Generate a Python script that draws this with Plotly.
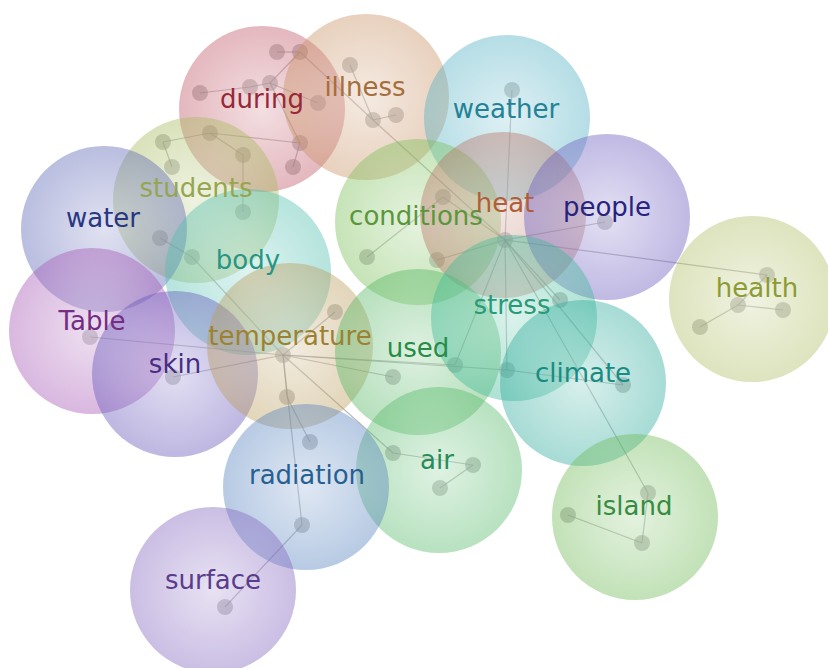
import plotly.graph_objects as go

# ---- topic bubbles ----
terms = ["during", "illness", "weather", "students", "water", "conditions", "heat",
         "people", "health", "body", "Table", "skin", "temperature", "used", "stress",
         "climate", "air", "radiation", "island", "surface"]
bubble_x = [262, 366, 507, 196, 104, 418, 503, 607, 752, 248, 92, 175, 290, 418, 514,
            583, 439, 306, 635, 213]
bubble_y = [109, 97, 118, 200, 229, 222, 215, 217, 299, 272, 331, 374, 346, 352, 318,
            383, 470, 487, 517, 590]
label_x = [262, 365, 506, 196, 103, 416, 505, 607, 757, 248, 92, 175, 290, 418, 512,
           583, 437, 307, 634, 213]
label_y = [101, 89, 111, 190, 220, 218, 205, 209, 290, 262, 323, 366, 338, 350, 307,
           375, 462, 477, 508, 582]
fill_rgb = [(190, 85, 100), (200, 145, 100), (80, 175, 195), (165, 185, 90),
            (90, 100, 180), (120, 190, 85), (185, 115, 100), (105, 90, 190),
            (175, 190, 100), (80, 190, 175), (165, 85, 180), (100, 85, 185),
            (185, 155, 90), (80, 180, 95), (60, 185, 150), (45, 170, 155),
            (85, 185, 105), (85, 130, 190), (110, 185, 85), (130, 100, 190)]
text_colors = ["rgb(150,40,55)", "rgb(165,110,60)", "rgb(35,130,150)", "rgb(150,165,80)",
               "rgb(40,55,130)", "rgb(90,150,60)", "rgb(175,95,55)", "rgb(40,35,125)",
               "rgb(140,155,50)", "rgb(40,150,130)", "rgb(115,45,130)", "rgb(70,45,130)",
               "rgb(155,130,50)", "rgb(40,140,70)", "rgb(40,155,120)", "rgb(25,140,130)",
               "rgb(40,140,90)", "rgb(40,95,145)", "rgb(55,140,65)", "rgb(90,60,140)"]

# ---- underlying word network ----
node_x = [277, 300, 200, 250, 270, 318, 210, 243, 293, 300, 163, 172, 243,
          350, 373, 396, 512, 443, 367, 437, 505, 605,
          767, 738, 783, 700, 160, 192, 90, 173,
          283, 335, 287, 310, 393, 455, 393, 473, 440, 507, 623,
          302, 225, 648, 642, 568, 560]
node_y = [52, 52, 93, 87, 83, 103, 133, 155, 167, 143, 142, 167, 212,
          65, 120, 115, 90, 197, 257, 260, 240, 222,
          275, 305, 310, 327, 238, 257, 337, 377,
          355, 312, 397, 442, 377, 365, 453, 465, 488, 370, 385,
          525, 607, 493, 543, 515, 300]
edges = [(0, 1), (1, 4), (4, 3), (3, 2), (4, 5), (4, 9), (9, 8), (9, 6), (6, 7), (6, 10),
         (10, 11), (7, 12), (13, 14), (14, 15), (1, 14),
         (20, 16), (20, 17), (17, 18), (20, 19), (20, 21), (20, 22), (20, 43), (20, 46),
         (20, 39), (20, 35), (20, 40), (20, 14),
         (22, 23), (23, 25), (23, 24),
         (30, 28), (30, 29), (30, 31), (30, 32), (32, 33), (30, 34), (30, 36), (30, 35),
         (30, 39), (30, 27), (30, 41), (41, 42), (26, 27), (36, 37), (37, 38),
         (43, 44), (44, 45), (39, 40)]


def rgb(c):
    return "rgb(%d,%d,%d)" % c


def tint(c, k=0.55):
    return "rgb(%d,%d,%d)" % tuple(round(v + (255 - v) * k) for v in c)


fig = go.Figure()

ex, ey = [], []
for a, b in edges:
    ex += [node_x[a], node_x[b], None]
    ey += [node_y[a], node_y[b], None]
fig.add_trace(go.Scatter(x=ex, y=ey, mode="lines",
                         line=dict(color="rgba(120,120,120,0.5)", width=1.2),
                         hoverinfo="skip", showlegend=False))
fig.add_trace(go.Scatter(x=node_x, y=node_y, mode="markers",
                         marker=dict(size=16, color="rgba(140,140,140,0.5)", line=dict(width=0)),
                         hoverinfo="skip", showlegend=False))

fig.add_trace(go.Scatter(
    x=bubble_x, y=bubble_y, mode="markers",
    marker=dict(size=166, color=[rgb(c) for c in fill_rgb], opacity=0.42,
                gradient=dict(type="radial", color=[tint(c) for c in fill_rgb]),
                line=dict(width=0)),
    hoverinfo="skip", showlegend=False))

fig.add_trace(go.Scatter(
    x=label_x, y=label_y, mode="text", text=terms,
    textfont=dict(family="DejaVu Sans", size=26, color=text_colors),
    textposition="middle center", hoverinfo="skip", showlegend=False))

fig.update_layout(
    width=828, height=668, margin=dict(l=0, r=0, t=0, b=0),
    paper_bgcolor="white", plot_bgcolor="white",
    xaxis=dict(range=[0, 828], visible=False, fixedrange=True),
    yaxis=dict(range=[668, 0], visible=False, fixedrange=True),
)
fig.write_html("out.html", config={"displayModeBar": False},
               post_script="document.body.style.margin='0';document.body.style.overflow='hidden';")
